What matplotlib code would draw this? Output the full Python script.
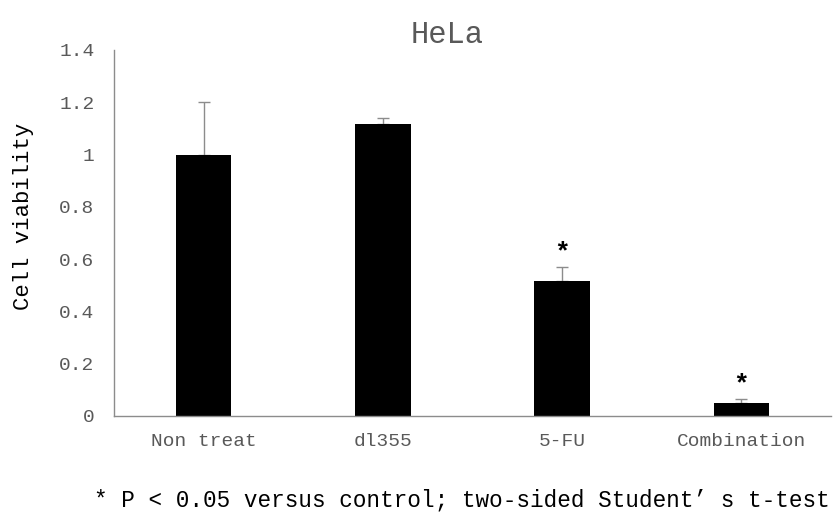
import numpy as np
import matplotlib.pyplot as plt

groups = ['Non treat', 'dl355', '5-FU', 'Combination']
viability = [1.0, 1.115, 0.515, 0.05]
err_up = [0.2, 0.025, 0.055, 0.015]
significant = [False, False, True, True]

plt.rcParams['font.family'] = ['Liberation Mono', 'DejaVu Sans Mono']
grey = '#595959'

fig = plt.figure(figsize=(8.34, 5.18), dpi=100)
ax = fig.add_axes([0.1367, 0.197, 0.8597, 0.7065])

x = np.arange(len(groups))
ax.bar(x, viability, width=0.31, color='black', zorder=2)
ax.errorbar(x, viability, yerr=[np.zeros(len(x)), err_up], fmt='none',
            ecolor='#8c8c8c', elinewidth=1, capsize=4, capthick=1, zorder=1)

for xi, v, e, s in zip(x, viability, err_up, significant):
    if s:
        ax.text(xi, v + e + 0.01, '*', ha='center', va='bottom', fontsize=19,
                fontweight='bold', color='black')

ax.set_xlim(-0.5, len(groups) - 0.5)
ax.set_ylim(0, 1.4)
ax.set_yticks([0, 0.2, 0.4, 0.6, 0.8, 1.0, 1.2, 1.4])
ax.set_yticklabels(['0', '0.2', '0.4', '0.6', '0.8', '1', '1.2', '1.4'])
ax.set_xticks(x)
ax.set_xticklabels(groups)
ax.tick_params(axis='both', length=0, labelsize=14, labelcolor=grey)
ax.tick_params(axis='x', pad=12)
ax.tick_params(axis='y', pad=14)

for side in ['top', 'right']:
    ax.spines[side].set_visible(False)
for side in ['left', 'bottom']:
    ax.spines[side].set_color('#8c8c8c')
    ax.spines[side].set_linewidth(1)

ax.set_ylabel('Cell viability', fontsize=16, color='black')
ax.yaxis.set_label_coords(-0.111, 0.544)

fig.text(0.536, 0.932, 'HeLa', ha='center', va='center', fontsize=22, color=grey)

fig.text(0.554, 0.035, '* P < 0.05 versus control; two-sided Student’ s t-test',
         ha='center', va='center', fontsize=16.3, color='black')

plt.savefig('out.png')
